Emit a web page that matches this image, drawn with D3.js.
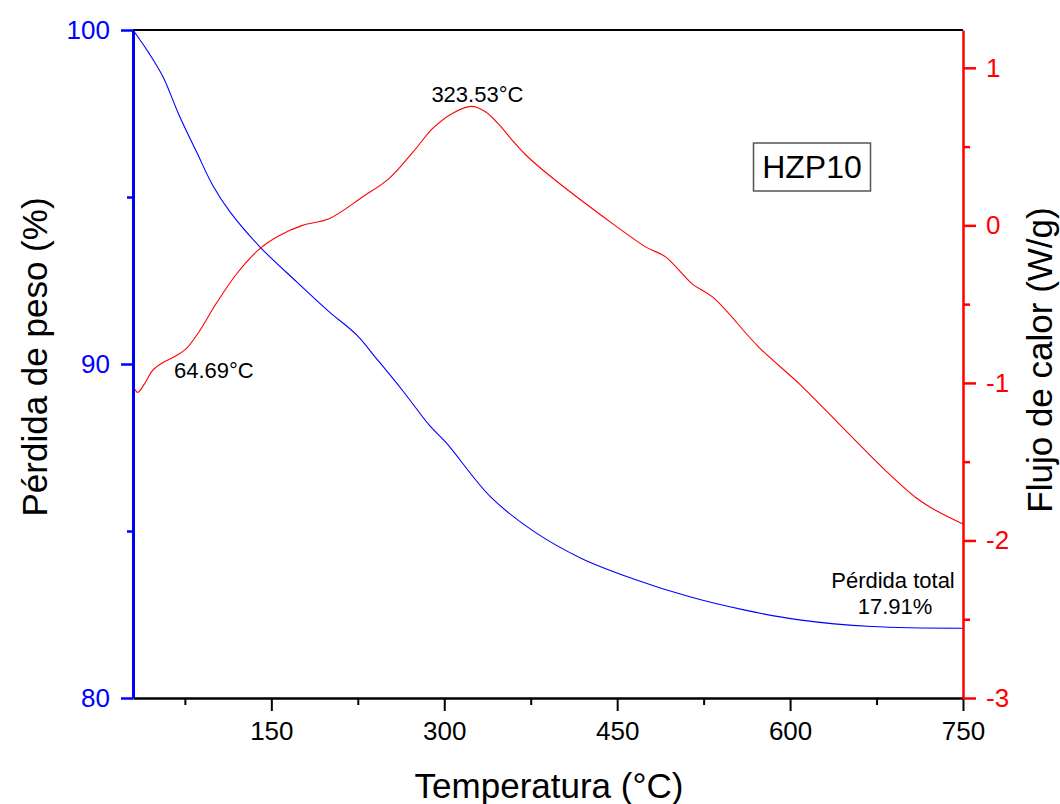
<!DOCTYPE html>
<html>
<head>
<meta charset="utf-8">
<script src="https://cdn.jsdelivr.net/npm/d3@7"></script>
<style>
  html, body { margin: 0; padding: 0; background: #fff; }
  svg { display: block; font-family: "Liberation Sans", Arial, sans-serif; }
</style>
</head>
<body>
<svg id="chart" width="1060" height="804"></svg>
<script>
// ---- Data ----
const tgaTemp   = [30, 44, 56, 70, 85, 99, 114, 140, 172, 200, 224, 241, 264, 287, 302, 340, 378, 419, 463, 513, 561, 608, 671, 750];
const tgaWeight = [100, 99.3, 98.6, 97.45, 96.36, 95.36, 94.56, 93.51, 92.46, 91.57, 90.87, 90.17, 89.2, 88.17, 87.63, 86.03, 84.98, 84.18, 83.58, 83.03, 82.63, 82.34, 82.14, 82.09];

const dscTemp = [30, 34, 40, 47, 56, 65, 76, 88, 102, 120, 140, 157, 177, 200, 229, 252, 273, 290, 307, 323.5, 336, 348, 359, 371, 391, 446, 475, 492, 515, 533, 573, 608, 651, 683, 709, 727, 750];
const dscFlow = [-1.017, -1.06, -1.006, -0.92, -0.87, -0.837, -0.784, -0.667, -0.498, -0.307, -0.148, -0.064, 0, 0.042, 0.18, 0.297, 0.466, 0.615, 0.71, 0.755, 0.72, 0.636, 0.54, 0.445, 0.318, 0.011, -0.138, -0.2, -0.371, -0.456, -0.774, -1.006, -1.324, -1.558, -1.727, -1.812, -1.896];

const xTicks = [150, 300, 450, 600, 750];
const xMinorTicks = [75, 225, 375, 525, 675];
const leftTicks = [80, 90, 100];
const leftMinorTicks = [85, 95];
const rightTicks = [-3, -2, -1, 0, 1];
const rightMinorTicks = [-2.5, -1.5, -0.5, 0.5];

const xLabel = "Temperatura (°C)";
const leftLabel = "Pérdida de peso (%)";
const rightLabel = "Flujo de calor (W/g)";
const sampleLabel = "HZP10";
const peakLabels = [{t: 323.53, text: "323.53°C"}, {t: 64.69, text: "64.69°C"}];
const lossLines = ["Pérdida total", "17.91%"];

// ---- Layout ----
const L = 133, R = 963, T = 30, B = 698;
const svg = d3.select("#chart");
const FONT = "Liberation Sans, Arial, sans-serif";

const x = d3.scaleLinear().domain([30, 750]).range([L, R]);
const yL = d3.scaleLinear().domain([80, 100]).range([B, T]);
const yR = d3.scaleLinear().domain([-3, 1.24]).range([B, T]);

// top border
svg.append("line").attr("x1", L).attr("x2", R).attr("y1", T).attr("y2", T)
  .attr("stroke", "#000").attr("stroke-width", 2);

// curves
const tgaData = tgaTemp.map((t, i) => [t, tgaWeight[i]]);
const dscData = dscTemp.map((t, i) => [t, dscFlow[i]]);

svg.append("path").datum(tgaData)
  .attr("fill", "none").attr("stroke", "#0000ff").attr("stroke-width", 1.1)
  .attr("d", d3.line().x(d => x(d[0])).y(d => yL(d[1])).curve(d3.curveCatmullRom.alpha(0.5)));

svg.append("path").datum(dscData)
  .attr("fill", "none").attr("stroke", "#ff0000").attr("stroke-width", 1.1)
  .attr("d", d3.line().x(d => x(d[0])).y(d => yR(d[1])).curve(d3.curveCatmullRom.alpha(0.5)));

// bottom axis
const gx = svg.append("g").attr("transform", `translate(0,${B})`)
  .call(d3.axisBottom(x).tickValues(xTicks).tickSize(13).tickSizeOuter(0).tickPadding(11));
gx.select(".domain").attr("stroke", "#000").attr("stroke-width", 2.5);
gx.selectAll(".tick line").attr("stroke", "#000").attr("stroke-width", 2);
gx.selectAll(".tick text").attr("font-size", 26).attr("fill", "#000").attr("font-family", FONT);
const gxm = svg.append("g").attr("transform", `translate(0,${B})`)
  .call(d3.axisBottom(x).tickValues(xMinorTicks).tickSize(7).tickFormat(""));
gxm.select(".domain").remove();
gxm.selectAll(".tick line").attr("stroke", "#000").attr("stroke-width", 2);

// left axis
const gl = svg.append("g").attr("transform", `translate(${L},0)`)
  .call(d3.axisLeft(yL).tickValues(leftTicks).tickSize(12).tickSizeOuter(0).tickPadding(11));
gl.select(".domain").attr("stroke", "#0000ff").attr("stroke-width", 3);
gl.selectAll(".tick line").attr("stroke", "#0000ff").attr("stroke-width", 2.5);
gl.selectAll(".tick text").attr("font-size", 26).attr("fill", "#0000ff").attr("font-family", FONT);
const glm = svg.append("g").attr("transform", `translate(${L},0)`)
  .call(d3.axisLeft(yL).tickValues(leftMinorTicks).tickSize(6).tickFormat(""));
glm.select(".domain").remove();
glm.selectAll(".tick line").attr("stroke", "#0000ff").attr("stroke-width", 2.5);

// right axis
const gr = svg.append("g").attr("transform", `translate(${R},0)`)
  .call(d3.axisRight(yR).tickValues(rightTicks).tickSize(13).tickSizeOuter(0).tickPadding(10)
    .tickFormat(d => d < 0 ? "-" + Math.abs(d) : String(d)));
gr.select(".domain").attr("stroke", "#ff0000").attr("stroke-width", 2.5);
gr.selectAll(".tick line").attr("stroke", "#ff0000").attr("stroke-width", 2.5);
gr.selectAll(".tick text").attr("font-size", 26).attr("fill", "#ff0000").attr("font-family", FONT);
const grm = svg.append("g").attr("transform", `translate(${R},0)`)
  .call(d3.axisRight(yR).tickValues(rightMinorTicks).tickSize(7).tickFormat(""));
grm.select(".domain").remove();
grm.selectAll(".tick line").attr("stroke", "#ff0000").attr("stroke-width", 2.5);

// axis titles
svg.append("text").attr("x", 549).attr("y", 798).attr("text-anchor", "middle")
  .attr("font-size", 35).attr("fill", "#000").text(xLabel);
svg.append("text").attr("transform", `translate(47,357) rotate(-90)`).attr("text-anchor", "middle")
  .attr("font-size", 35).attr("fill", "#000").text(leftLabel);
svg.append("text").attr("transform", `translate(1052,360) rotate(-90)`).attr("text-anchor", "middle")
  .attr("font-size", 35).attr("fill", "#000").text(rightLabel);

// annotations
svg.append("text").attr("x", x(peakLabels[0].t) + 6).attr("y", 102).attr("text-anchor", "middle")
  .attr("font-size", 22).attr("fill", "#000").text(peakLabels[0].text);
svg.append("text").attr("x", 174).attr("y", 378).attr("text-anchor", "start")
  .attr("font-size", 22).attr("fill", "#000").text(peakLabels[1].text);

svg.append("text").attr("x", 893).attr("y", 588).attr("text-anchor", "middle")
  .attr("font-size", 22).attr("fill", "#000").text(lossLines[0]);
svg.append("text").attr("x", 895).attr("y", 614).attr("text-anchor", "middle")
  .attr("font-size", 22).attr("fill", "#000").text(lossLines[1]);

// sample label box
svg.append("rect").attr("x", 753.5).attr("y", 143).attr("width", 117).attr("height", 48)
  .attr("fill", "#fff").attr("stroke", "#555").attr("stroke-width", 1.5);
svg.append("text").attr("x", 812).attr("y", 178).attr("text-anchor", "middle")
  .attr("font-size", 32).attr("fill", "#000").text(sampleLabel);
</script>
</body>
</html>
